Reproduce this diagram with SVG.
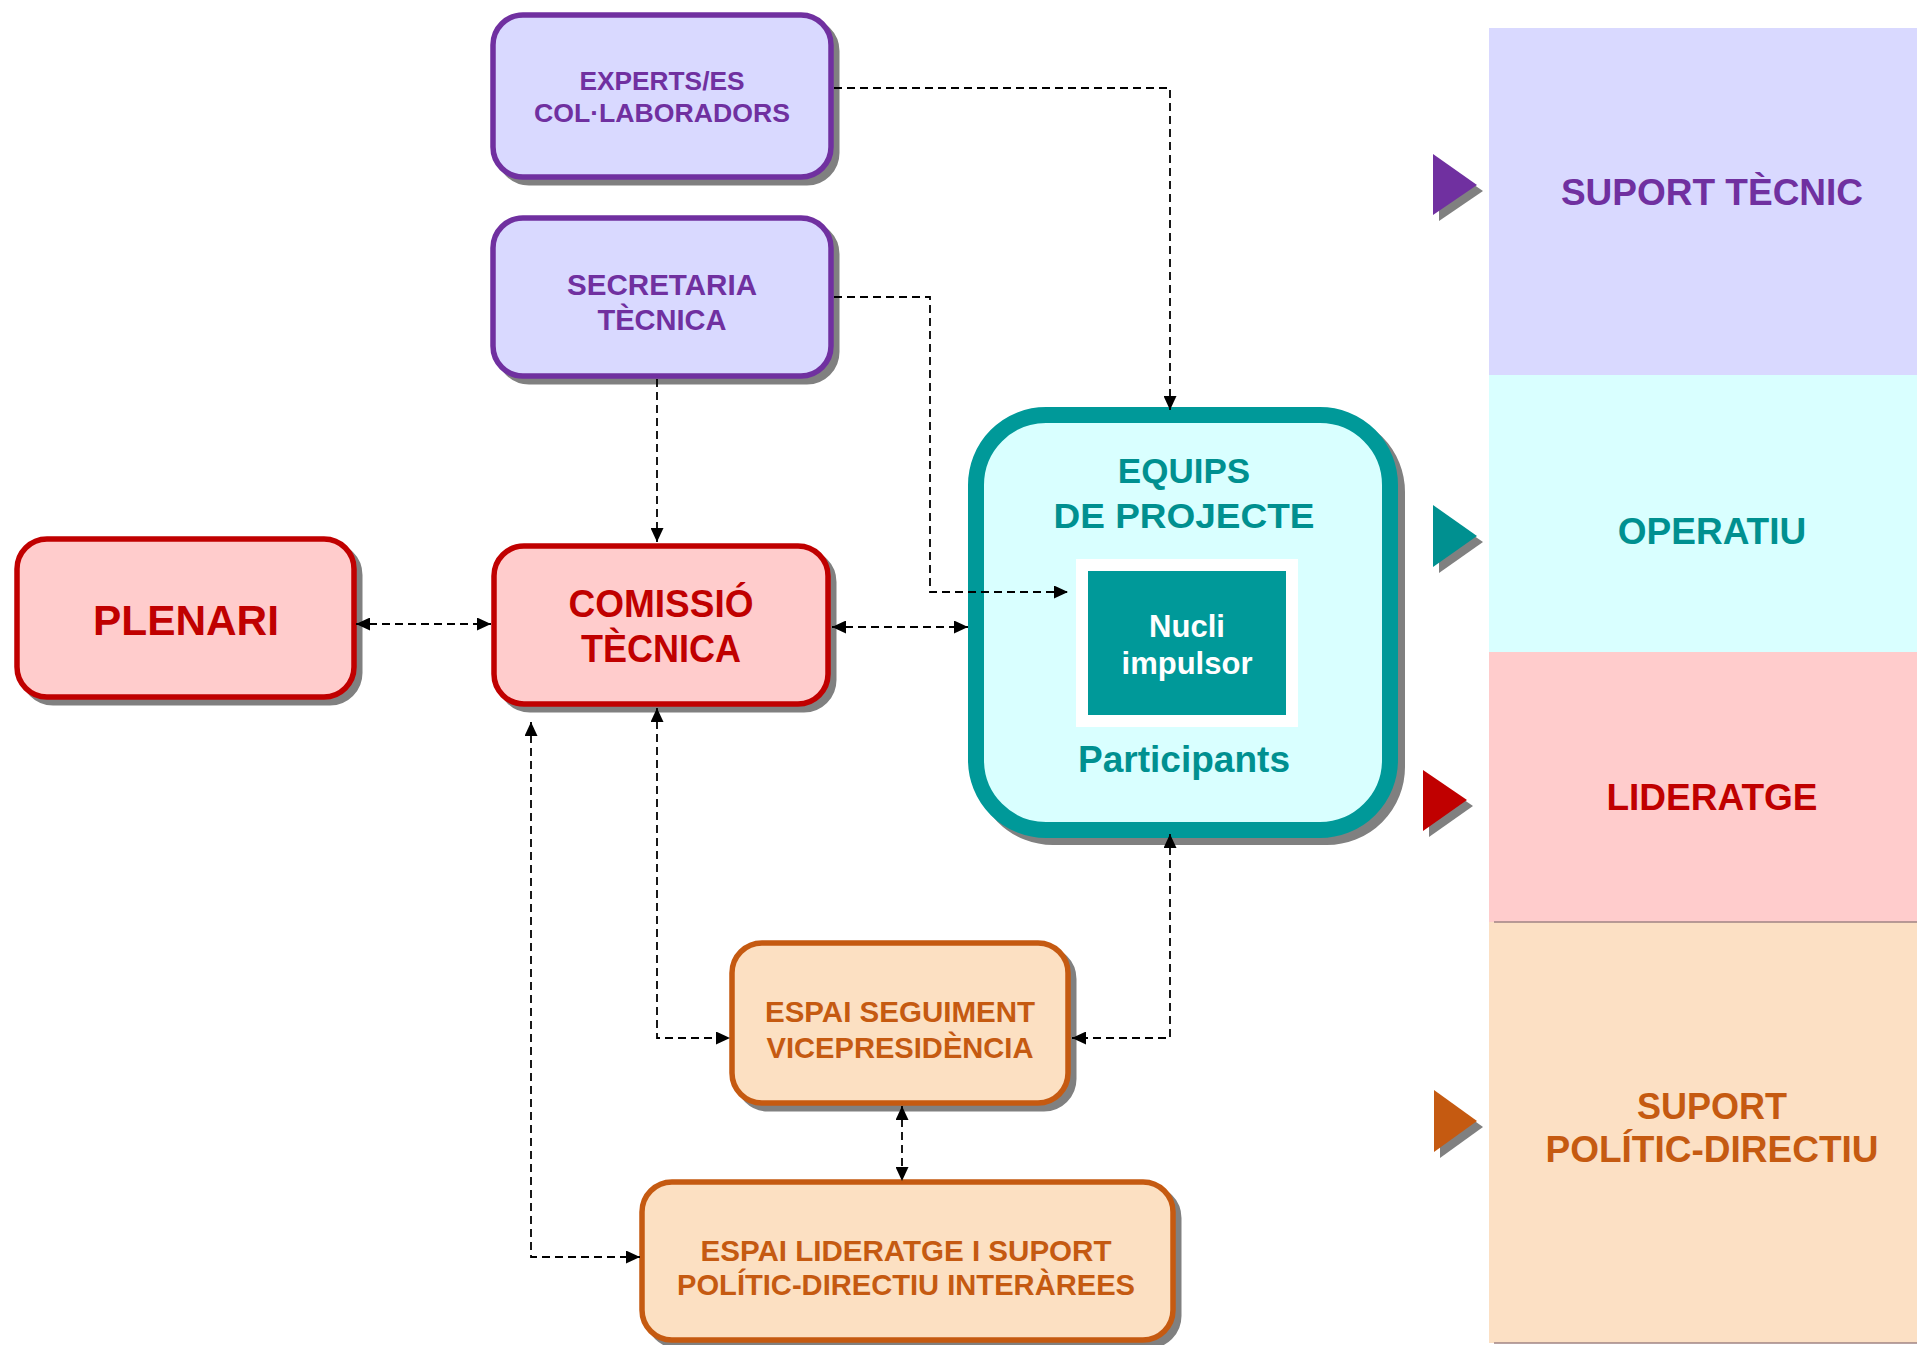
<svg xmlns="http://www.w3.org/2000/svg" width="1917" height="1345" viewBox="0 0 1917 1345">
<style>
.t{font-family:"Liberation Sans Narrow","Liberation Sans",Arial,sans-serif;font-weight:bold;text-anchor:middle}
.w{font-family:"Liberation Sans",Arial,sans-serif;font-weight:bold;text-anchor:middle}
.sh{fill:#808080;stroke:#808080}
.pur{fill:#D9D9FF;stroke:#7030A0;stroke-width:5.5}
.red{fill:#FFCCCC;stroke:#C00000;stroke-width:5.5}
.org{fill:#FCE0C2;stroke:#C55A11;stroke-width:5.5}
.con{fill:none;stroke:#000;stroke-width:1.8;stroke-dasharray:8 5}
</style>
<defs>
<marker id="ah" markerUnits="userSpaceOnUse" markerWidth="14" markerHeight="13" refX="14" refY="6.5" orient="auto-start-reverse">
<path d="M0,0 L14,6.5 L0,13 Z" fill="#000"/>
</marker>
</defs>
<rect width="1917" height="1345" fill="#fff"/>

<g id="bands">
<rect x="1489" y="28" width="428" height="347" fill="#D9D9FF"/>
<rect x="1489" y="375" width="428" height="277" fill="#D9FFFF"/>
<rect x="1489" y="652" width="428" height="270" fill="#FFCCCC"/>
<rect x="1489" y="922" width="428" height="421" fill="#FCE0C4"/>
<line x1="1494" y1="922" x2="1917" y2="922" stroke="#A08585" stroke-width="1.5"/>
<line x1="1494" y1="1343" x2="1917" y2="1343" stroke="#A08585" stroke-width="1.5"/>
<text class="w" x="1712" y="205" font-size="37" fill="#7030A0">SUPORT TÈCNIC</text>
<text class="w" x="1712" y="544" font-size="37" fill="#009090">OPERATIU</text>
<text class="w" x="1712" y="810" font-size="37" fill="#C00000">LIDERATGE</text>
<text class="w" x="1712" y="1119" font-size="36" fill="#C55A11">SUPORT</text>
<text class="w" x="1712" y="1162" font-size="36" fill="#C55A11" textLength="333" lengthAdjust="spacingAndGlyphs">POLÍTIC-DIRECTIU</text>
</g>

<g id="markers">
<path d="M1439,161 L1483,191 L1439,221 Z" fill="#808080"/>
<path d="M1433,154 L1477,185 L1433,215 Z" fill="#7030A0"/>
<path d="M1439,512 L1483,542 L1439,573 Z" fill="#808080"/>
<path d="M1433,505 L1477,536 L1433,567 Z" fill="#009090"/>
<path d="M1429,776 L1473,806 L1429,837 Z" fill="#808080"/>
<path d="M1423,770 L1467,800 L1423,831 Z" fill="#C00000"/>
<path d="M1440,1096 L1483,1127 L1440,1158 Z" fill="#808080"/>
<path d="M1434,1090 L1477,1121 L1434,1152 Z" fill="#C55A11"/>
</g>

<g id="experts">
<rect class="sh" x="499" y="21" width="338" height="162" rx="30" stroke-width="5"/>
<rect class="pur" x="493" y="15" width="338" height="162" rx="30"/>
<text class="t" x="662" y="90" font-size="25" fill="#7030A0" textLength="165" lengthAdjust="spacingAndGlyphs">EXPERTS/ES</text>
<text class="t" x="662" y="122" font-size="25" fill="#7030A0" textLength="256" lengthAdjust="spacingAndGlyphs">COL·LABORADORS</text>
</g>

<g id="secretaria">
<rect class="sh" x="499" y="224" width="338" height="158" rx="30" stroke-width="5"/>
<rect class="pur" x="493" y="218" width="338" height="158" rx="30"/>
<text class="t" x="662" y="295" font-size="29" fill="#7030A0" textLength="190" lengthAdjust="spacingAndGlyphs">SECRETARIA</text>
<text class="t" x="662" y="330" font-size="29" fill="#7030A0" textLength="129" lengthAdjust="spacingAndGlyphs">TÈCNICA</text>
</g>

<g id="plenari">
<rect class="sh" x="23" y="545" width="337" height="158" rx="30" stroke-width="5"/>
<rect class="red" x="17" y="539" width="337" height="158" rx="30"/>
<text class="t" x="186" y="635" font-size="42" fill="#C00000" textLength="186" lengthAdjust="spacingAndGlyphs">PLENARI</text>
</g>

<g id="comissio">
<rect class="sh" x="500" y="552" width="334" height="158" rx="30" stroke-width="5"/>
<rect class="red" x="494" y="546" width="334" height="158" rx="30"/>
<text class="t" x="661" y="617" font-size="38" fill="#C00000" textLength="185" lengthAdjust="spacingAndGlyphs">COMISSIÓ</text>
<text class="t" x="661" y="662" font-size="38" fill="#C00000" textLength="160" lengthAdjust="spacingAndGlyphs">TÈCNICA</text>
</g>

<g id="equips">
<rect x="983" y="422" width="414" height="415" rx="70" fill="#808080" stroke="#808080" stroke-width="16"/>
<rect x="976" y="415" width="414" height="415" rx="70" fill="#D9FFFF" stroke="#009999" stroke-width="16"/>
<text class="w" x="1184" y="483" font-size="35" fill="#009090">EQUIPS</text>
<text class="w" x="1184" y="528" font-size="35" fill="#009090" textLength="261" lengthAdjust="spacingAndGlyphs">DE PROJECTE</text>
<rect x="1076" y="559" width="222" height="168" fill="#fff"/>
<rect x="1088" y="571" width="198" height="144" fill="#009999"/>
<text class="w" x="1187" y="637" font-size="31" fill="#fff">Nucli</text>
<text class="w" x="1187" y="674" font-size="31" fill="#fff">impulsor</text>
<text class="w" x="1184" y="772" font-size="36" fill="#009090" textLength="212" lengthAdjust="spacingAndGlyphs">Participants</text>
</g>

<g id="seguiment">
<rect class="sh" x="738" y="949" width="336" height="160" rx="30" stroke-width="5"/>
<rect class="org" x="732" y="943" width="336" height="160" rx="30"/>
<text class="t" x="900" y="1022" font-size="30" fill="#C55A11" textLength="270" lengthAdjust="spacingAndGlyphs">ESPAI SEGUIMENT</text>
<text class="t" x="900" y="1058" font-size="30" fill="#C55A11" textLength="267" lengthAdjust="spacingAndGlyphs">VICEPRESIDÈNCIA</text>
</g>

<g id="lideratge">
<rect class="sh" x="648" y="1188" width="531" height="158" rx="30" stroke-width="5"/>
<rect class="org" x="642" y="1182" width="531" height="158" rx="30"/>
<text class="t" x="906" y="1261" font-size="30" fill="#C55A11" textLength="411" lengthAdjust="spacingAndGlyphs">ESPAI LIDERATGE I SUPORT</text>
<text class="t" x="906" y="1295" font-size="30" fill="#C55A11" textLength="458" lengthAdjust="spacingAndGlyphs">POLÍTIC-DIRECTIU INTERÀREES</text>
</g>

<g id="connectors">
<path class="con" d="M834,88 H1170 V410" marker-end="url(#ah)"/>
<path class="con" d="M834,297 H930 V592 H1068" marker-end="url(#ah)"/>
<path class="con" d="M657,379 V542" marker-end="url(#ah)"/>
<path class="con" d="M356,624 H491" marker-start="url(#ah)" marker-end="url(#ah)"/>
<path class="con" d="M832,627 H968" marker-start="url(#ah)" marker-end="url(#ah)"/>
<path class="con" d="M657,708 V1038 H730" marker-start="url(#ah)" marker-end="url(#ah)"/>
<path class="con" d="M531,722 V1257 H640" marker-start="url(#ah)" marker-end="url(#ah)"/>
<path class="con" d="M1170,834 V1038 H1072" marker-start="url(#ah)" marker-end="url(#ah)"/>
<path class="con" d="M902,1106 V1181" marker-start="url(#ah)" marker-end="url(#ah)"/>
</g>
</svg>
